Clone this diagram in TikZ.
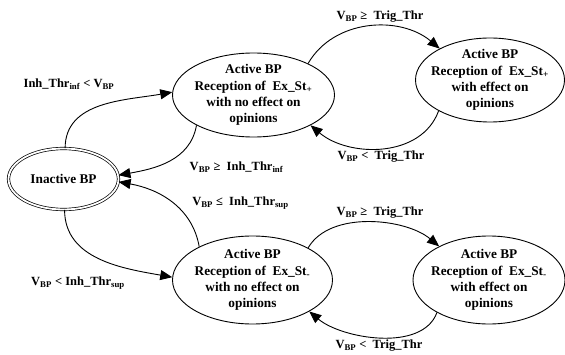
\documentclass[tikz,border=0pt]{standalone}
\usepackage{fontspec}
\setmainfont{Liberation Serif}
\usetikzlibrary{shapes.geometric,arrows.meta}
\newcommand\sbs[1]{\textsubscript{#1}}
\begin{document}
\begin{tikzpicture}[x=1pt,y=1pt,
  st/.style={ellipse,draw,line width=0.9pt,inner sep=0pt},
  stxt/.style={align=center,font=\fontsize{13.3}{16.3}\selectfont\bfseries,inner sep=0pt},
  lbl/.style={font=\fontsize{12.5}{14}\selectfont\bfseries,inner sep=0pt},
  arr/.style={line width=0.9pt,-{Triangle[length=12pt,width=10pt]}}]
\useasboundingbox (0,0) rectangle (565,354);
% states
\node[st, double, double distance=1.8pt, line width=0.7pt, minimum width=110pt, minimum height=61pt] (inact) at (63.5,175) {};
\node[stxt] (inactt) at (inact) {Inactive BP};
\node[st, minimum width=162pt, minimum height=84pt] (actT) at (253.5,259) {};
\node[stxt] (actTt) at (actT) {Active BP\\Reception of~~Ex\_St\sbs{+}\\with no effect on\\opinions};
\node[st, minimum width=149pt, minimum height=84pt] (effT) at (490,274) {};
\node[stxt] (effTt) at (effT) {Active BP\\Reception of~~Ex\_St\sbs{+}\\with effect on\\opinions};
\node[st, minimum width=160pt, minimum height=88pt] (actB) at (252.5,74) {};
\node[stxt] (actBt) at (actB) {Active BP\\Reception of~~Ex\_St\sbs{-}\\with no effect on\\opinions};
\node[st, minimum width=152pt, minimum height=88pt] (effB) at (489,74) {};
\node[stxt] (effBt) at (effB) {Active BP\\Reception of~~Ex\_St\sbs{-}\\with effect on\\opinions};
% transitions
\draw[arr] (inact.87) to[out=90,in=190] (actT.178);
\draw[arr] (actT.208) to[out=260,in=10] (inact.4);
\draw[arr] (actB.148) to[out=100,in=-10] (inact.-3);
\draw[arr] (inact.-88) to[out=-90,in=170] (actB.178);
\draw[arr] (actT.30) to[out=60,in=140] (effT.148);
\draw[arr] (effT.211) to[out=250,in=-40] (actT.332);
\draw[arr] (actB.30) to[out=60,in=140,looseness=0.85] (effB.146);
\draw[arr] (effB.212) to[out=250,in=-40,looseness=0.85] (actB.331);
% labels
\node[lbl] (l1) at (69,270) {Inh\_Thr\sbs{inf} < V\sbs{BP}};
\node[lbl] (l2) at (236.5,187) {V\sbs{BP} ≥~~Inh\_Thr\sbs{inf}};
\node[lbl] (l3) at (240.5,151) {V\sbs{BP} ≤~~Inh\_Thr\sbs{sup}};
\node[lbl] (l4) at (78,71) {V\sbs{BP} < Inh\_Thr\sbs{sup}};
\node[lbl] (l5) at (380,337) {V\sbs{BP} ≥~~Trig\_Thr};
\node[lbl] (l6) at (381,197) {V\sbs{BP} <~~Trig\_Thr};
\node[lbl] (l7) at (380,141) {V\sbs{BP} ≥~~Trig\_Thr};
\node[lbl] (l8) at (379,8) {V\sbs{BP} <~~Trig\_Thr};
\end{tikzpicture}
\end{document}
